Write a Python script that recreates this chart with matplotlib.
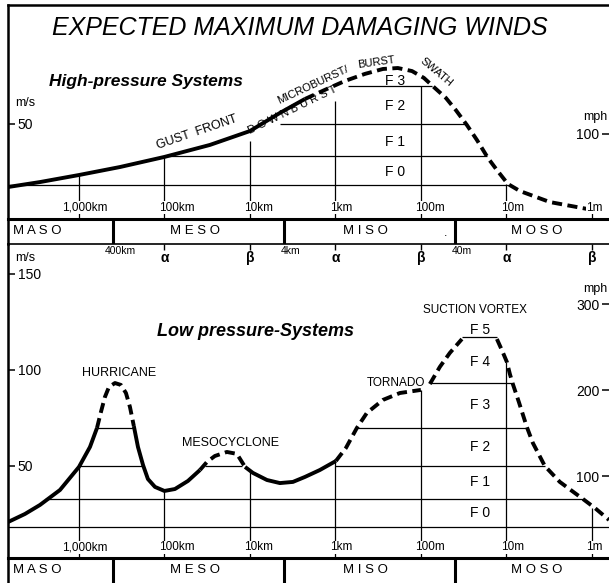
import matplotlib
matplotlib.use("Agg")
import matplotlib.pyplot as plt
import matplotlib.transforms as mtransforms
from matplotlib.ticker import NullLocator

plt.rcParams['font.family'] = ['Liberation Sans', 'DejaVu Sans']

# ---------------- data ----------------
dist_km = [1000, 100, 10, 1, 0.1, 0.01, 0.001]
dist_labels = ['1,000km', '100km', '10km', '1km', '100m', '10m', '1m']
sub_labels = ['α', 'β', 'α', 'β', 'α', 'β']          # at dist_km[1:]
scale_names = ['MASO', 'MESO', 'MISO', 'MOSO']
scale_bounds_km = [400, 4, 0.04]
bound_labels = ['400km', '4km', '40m']
f_names = ['F0', 'F1', 'F2', 'F3', 'F4', 'F5']

# High-pressure systems curve (km, m/s)
hi_solid_km = [6760, 2858, 1000, 331, 100, 29.4, 10, 4.46, 2.28]
hi_solid_ms = [16.8, 19.4, 23.1, 27.3, 32.6, 38.9, 46.2, 55.7, 63.0]
hi_dash_km = [2.28, 1.33, 0.774, 0.452, 0.278, 0.186, 0.127, 0.0922, 0.0686,
              0.0510, 0.0390, 0.0290, 0.0221, 0.0164, 0.0129, 0.0096, 0.00695,
              0.0031, 0.00114]
hi_dash_ms = [63.0, 67.8, 72.5, 76.2, 78.8, 79.3, 77.7, 74.1, 68.8, 63.6, 57.2,
              49.4, 41.5, 32.0, 25.7, 18.4, 14.7, 8.9, 5.3]
# F-scale boundary lines, top panel
hi_f_ms = [18, 33, 50, 70]
hi_f_from = [6760, 100, 4.46, 0.714]
hi_f_to = [0.0094, 0.0169, 0.0297, 0.0745]
hi_vtop = [23.1, 32.6, 41, 62, 70, 18.4, 5.3]
hi_f_label_ms = [24.7, 40.4, 59.3, 72.5]

# Low-pressure systems curve pieces (km, m/s)
lo_pieces = [
    ('solid', [6760, 4285, 2858, 1667, 1000, 743, 615],
              [20.8, 25.0, 29.7, 37.5, 49.5, 59.9, 69.8]),
    ('dash', [615, 553, 497, 446, 379, 323, 282, 253, 228],
             [69.8, 78.1, 85.9, 91.1, 93.2, 92.2, 88.0, 80.7, 70.8]),
    ('solid', [228, 204, 178, 156, 129, 100, 75.4, 53.1, 38.4],
              [70.8, 59.9, 50.5, 43.2, 39.1, 37.0, 38.0, 42.2, 47.9]),
    ('dash', [38.4, 31.8, 25.7, 18.6, 14.2, 11.4],
             [47.9, 52.1, 55.2, 57.3, 56.3, 49.5]),
    ('solid', [11.4, 9.23, 6.32, 4.46, 3.14, 2.27, 1.52, 0.987],
              [49.5, 46.4, 42.7, 41.1, 41.7, 44.3, 47.9, 52.6]),
    ('dash', [0.987, 0.753, 0.561, 0.429, 0.278, 0.176, 0.1],
             [52.6, 59.4, 69.8, 77.6, 84.4, 88.0, 89.6]),
    ('dash', [0.0785, 0.060, 0.0458, 0.0331],
             [92.7, 101.6, 108.9, 116.1]),
    ('dash', [0.0129, 0.0113, 0.00987, 0.0091, 0.0084, 0.00714, 0.00576, 0.0049,
              0.00355, 0.00237, 0.00158, 0.00127, 0.00092, 0.00063],
             [116.1, 110.4, 104.2, 97.9, 92.7, 83.3, 70.3, 62.0, 50.0, 41.7,
              35.9, 32.8, 28.1, 21.9]),
]
lo_f_ms = [18, 33, 50, 50, 50, 70, 70, 93, 117]
lo_f_from = [6760, 2500, 1000, 33.6, 1.0, 615, 0.561, 0.0785, 0.0331]
lo_f_to = [0.00063, 0.00127, 178, 12.4, 0.00355, 228, 0.00576, 0.0084, 0.0129]
lo_vtop = [49.5, 37.0, 47.5, 52.6, 89.6, 104.2, 28.3]
lo_f_label_ms = [25.5, 41.7, 59.9, 81.8, 104.2, 120.8]

ms_ticks_hi = [50]
ms_ticks_lo = [50, 100, 150]
mph_ticks_hi = [100]
mph_ticks_lo = [100, 200, 300]

# ---------------- layout ----------------
W, H = 609, 583
fig = plt.figure(figsize=(W / 100, H / 100), dpi=100)


def rect(top_px, bot_px):
    return [8 / W, 1 - bot_px / H, 1 - 8 / W, (bot_px - top_px) / H]


ax_hi = fig.add_axes(rect(5, 219))
band_hi = fig.add_axes(rect(219, 244))
ax_lo = fig.add_axes(rect(244, 558))
band_lo = fig.add_axes(rect(558, 585))

XLIM = (6760, 0.00063)
for a in (ax_hi, band_hi, ax_lo, band_lo):
    a.set_xscale('log')
    a.set_xlim(XLIM)
    a.set_xticks([])
    a.xaxis.set_minor_locator(NullLocator())
    a.patch.set_alpha(0)
    for s in a.spines.values():
        s.set_visible(False)
    a.spines['left'].set_visible(True)
    a.spines['left'].set_linewidth(1.8)

ax_hi.set_ylim(0, 112.4)
ax_lo.set_ylim(2.08, 165.6)
band_hi.set_ylim(0, 1)
band_lo.set_ylim(0, 1)
band_hi.set_yticks([])
band_lo.set_yticks([])
ax_hi.spines['top'].set_visible(True)
ax_hi.spines['top'].set_linewidth(1.8)
band_hi.spines['top'].set_visible(True)
band_hi.spines['top'].set_linewidth(2.2)
band_hi.spines['bottom'].set_visible(True)
band_hi.spines['bottom'].set_linewidth(1.2)
band_lo.spines['top'].set_visible(True)
band_lo.spines['top'].set_linewidth(2.2)

THICK = 2.8
THIN = 0.9
DASH = (0, (2.6, 1.4))
K = 'black'


def ms2mph(v):
    return v * 2.23694


def mph2ms(v):
    return v / 2.23694


# y axes (m/s left, mph right)
for a, ticks, mticks in ((ax_hi, ms_ticks_hi, mph_ticks_hi), (ax_lo, ms_ticks_lo, mph_ticks_lo)):
    a.set_yticks(ticks)
    a.tick_params(axis='y', direction='in', length=5, width=1.1, pad=-7, labelsize=10)
    plt.setp(a.get_yticklabels(), ha='left')
    sec = a.secondary_yaxis('right', functions=(ms2mph, mph2ms))
    sec.set_yticks(mticks)
    sec.tick_params(axis='y', direction='in', length=5, width=1.1, pad=-7, labelsize=10)
    plt.setp(sec.get_yticklabels(), ha='right')
    sec.spines['right'].set_visible(False)

tr_hi = mtransforms.blended_transform_factory(ax_hi.transAxes, ax_hi.transData)
tr_lo = mtransforms.blended_transform_factory(ax_lo.transAxes, ax_lo.transData)
ax_hi.text(0.012, 61, 'm/s', transform=tr_hi, ha='left', va='center', fontsize=9)
ax_lo.text(0.012, 158.3, 'm/s', transform=tr_lo, ha='left', va='center', fontsize=9)
ax_hi.text(0.998, 53.6, 'mph', transform=tr_hi, ha='right', va='center', fontsize=9)
ax_lo.text(0.998, 142, 'mph', transform=tr_lo, ha='right', va='center', fontsize=9)

# ---------------- top panel ----------------
ax_hi.plot(hi_solid_km, hi_solid_ms, color=K, lw=THICK, solid_capstyle='butt')
ax_hi.plot(hi_dash_km, hi_dash_ms, color=K, lw=THICK, ls=DASH, dash_capstyle='butt')
ax_hi.hlines(hi_f_ms, hi_f_from, hi_f_to, color=K, lw=THIN)
ax_hi.vlines(dist_km, 0, hi_vtop, color=K, lw=THIN)
for name, v in zip(f_names, hi_f_label_ms):
    ax_hi.text(0.201, v, name[0] + ' ' + name[1], ha='center', va='center', fontsize=10)

ax_hi.text(2.60, 100.3, 'EXPECTED MAXIMUM DAMAGING WINDS', ha='center', va='center',
           fontsize=18, style='italic')
ax_hi.text(164, 72.0, 'High-pressure Systems', ha='center', va='center',
           fontsize=12.5, style='italic', weight='bold')
ax_hi.text(41.7, 45.7, 'GUST  FRONT', ha='center', va='center', fontsize=9,
           rotation=19, rotation_mode='anchor')
ax_hi.text(3.14, 57.2, 'D O W N B U R S T', ha='center', va='center', fontsize=8,
           rotation=26, rotation_mode='anchor')
ax_hi.text(1.83, 70.6, 'MICROBURST/', ha='center', va='center', fontsize=8,
           rotation=25, rotation_mode='anchor')
ax_hi.text(0.336, 82.0, 'BURST', ha='center', va='center', fontsize=8,
           rotation=8, rotation_mode='anchor')
ax_hi.text(0.0668, 77.2, 'SWATH', ha='center', va='center', fontsize=8,
           rotation=-40, rotation_mode='anchor')

# ---------------- bottom panel ----------------
for style, xs, ys in lo_pieces:
    if style == 'solid':
        ax_lo.plot(xs, ys, color=K, lw=THICK, solid_capstyle='butt')
    else:
        ax_lo.plot(xs, ys, color=K, lw=THICK, ls=DASH, dash_capstyle='butt')
ax_lo.hlines(lo_f_ms, lo_f_from, lo_f_to, color=K, lw=THIN)
ax_lo.vlines(dist_km, 2.08, lo_vtop, color=K, lw=THIN)
for name, v in zip(f_names, lo_f_label_ms):
    ax_lo.text(0.0204, v, name[0] + ' ' + name[1], ha='center', va='center', fontsize=10)

ax_lo.text(8.51, 119.8, 'Low pressure-Systems', ha='center', va='center',
           fontsize=13, style='italic', weight='bold')
ax_lo.text(340, 98.4, 'HURRICANE', ha='center', va='center', fontsize=9)
ax_lo.text(16.7, 62, 'MESOCYCLONE', ha='center', va='center', fontsize=9)
ax_lo.text(0.0897, 93.2, 'TORNADO', ha='right', va='center', fontsize=8.5)
ax_lo.text(0.0233, 131.3, 'SUCTION VORTEX', ha='center', va='center', fontsize=8.5)

# alpha / beta marks at top of bottom panel
ax_lo.vlines(dist_km[1:], 162.3, 165.6, color=K, lw=1.0)
for km, lab in zip(dist_km[1:], sub_labels):
    ax_lo.text(km, 158.3, lab, ha='center', va='center', fontsize=10, weight='bold')
for km, lab in zip(scale_bounds_km, bound_labels):
    ax_lo.annotate(lab, xy=(km, 161.8), xytext=(5, 0), textcoords='offset points',
                   ha='center', va='center', fontsize=7.5)

# distance labels in both panels
for a, v in ((ax_hi, 6.0), (ax_lo, 7.6)):
    for km, lab in zip(dist_km, dist_labels):
        off = -12 if lab.startswith('1,') else -4
        a.annotate(lab, xy=(km, v), xytext=(off, 0), textcoords='offset points',
                   ha='left', va='center', fontsize=8.5,
                   bbox=dict(boxstyle='square,pad=0.05', fc='white', ec='none'))

# ---------------- scale bands ----------------
scale_text_km = [5920, 44, 0.45, 0.0044]
for band in (band_hi, band_lo):
    for b in scale_bounds_km:
        band.axvline(b, color=K, lw=2.2)
    for i, (name, km) in enumerate(zip(scale_names, scale_text_km)):
        band.text(km, 0.5 if band is band_hi else 0.55, ' '.join(name),
                  ha='left' if i == 0 else 'center', va='center', fontsize=9.5)
band_hi.text(0.052, 0.45, '.', ha='center', va='center', fontsize=9)

fig.savefig('out.png', dpi=100)
